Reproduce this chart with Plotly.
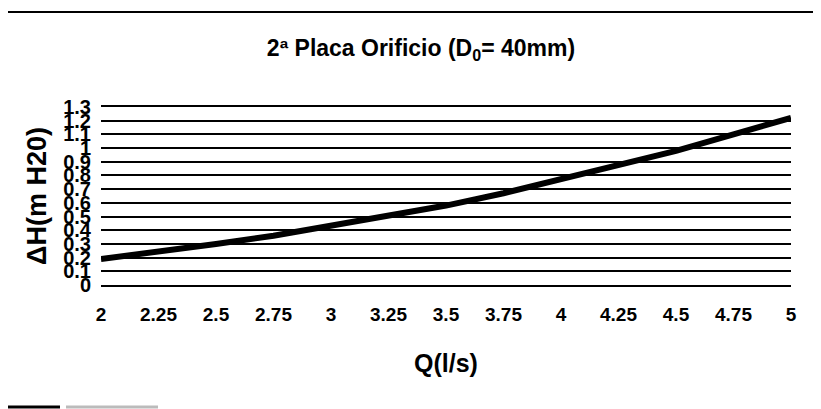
import plotly.graph_objects as go

# Caudal (l/s) y perdida de carga (m H2O)
caudal = [2, 2.25, 2.5, 2.75, 3, 3.25, 3.5, 3.75, 4, 4.25, 4.5, 4.75, 5]
perdida = [0.19, 0.24, 0.30, 0.36, 0.43, 0.50, 0.58, 0.67, 0.77, 0.87, 0.98, 1.10, 1.22]

x_ticks = [2, 2.25, 2.5, 2.75, 3, 3.25, 3.5, 3.75, 4, 4.25, 4.5, 4.75, 5]
y_ticks = [0, 0.1, 0.2, 0.3, 0.4, 0.5, 0.6, 0.7, 0.8, 0.9, 1, 1.1, 1.2, 1.3]

font_bold = 'Liberation Sans Narrow, Liberation Sans, Arial'

# la pagina tiene 8px de margen, asi que la figura es 8px mas pequena
W, H = 813, 401
L, R, T, B = 93, 30, 99, 124
pw, ph = W - L - R, H - T - B


def py(fy):
    # pixel vertical de la figura -> coordenada paper
    return (T + ph - fy) / ph


def px_(fx):
    return (fx - L) / pw


fig = go.Figure()
fig.add_trace(go.Scatter(x=caudal, y=perdida, mode='lines',
                         line=dict(color='black', width=6),
                         showlegend=False))

fig.update_xaxes(range=[2, 5], tickvals=x_ticks,
                 ticktext=[f'{v:g}' for v in x_ticks],
                 showgrid=False, zeroline=False,
                 showline=True, mirror=True, linecolor='black', linewidth=1.5,
                 ticks='', ticklabelstandoff=11, automargin=False,
                 tickfont=dict(family=font_bold, size=19, color='black', weight='bold'),
                 title=dict(text='<b>Q(l/s)</b>', standoff=31,
                            font=dict(family=font_bold, size=25, color='black')))
fig.update_yaxes(range=[0, 1.3], tickvals=y_ticks,
                 ticktext=[f'{v:g}' for v in y_ticks],
                 showgrid=True, gridcolor='black', gridwidth=1.5,
                 zeroline=False, showline=False, ticks='',
                 ticklabelstandoff=9, automargin=False,
                 tickfont=dict(family=font_bold, size=20, color='black', weight='bold'),
                 title=dict(text='<b>ΔH(m H20)</b>', standoff=8,
                            font=dict(family=font_bold, size=27, color='black')))

fig.update_layout(
    width=W, height=H,
    margin=dict(l=L, r=R, t=T, b=B),
    plot_bgcolor='white', paper_bgcolor='white',
    title=dict(text='<b>2ª Placa Orificio (D<sub>0</sub>= 40mm)</b>',
               x=413 / W, xanchor='center', y=1 - 40 / H, yanchor='middle',
               font=dict(family=font_bold, size=23, color='black')),
    # lineas del escaneo en los bordes de la pagina
    shapes=[
        dict(type='line', xref='paper', yref='paper', x0=px_(0), x1=px_(W),
             y0=py(4), y1=py(4), line=dict(color='black', width=2)),
        dict(type='line', xref='paper', yref='paper', x0=px_(0), x1=px_(52),
             y0=py(399), y1=py(399), line=dict(color='black', width=3)),
        dict(type='line', xref='paper', yref='paper', x0=px_(58), x1=px_(150),
             y0=py(399), y1=py(399), line=dict(color='#bbbbbb', width=3)),
    ],
)

fig.write_html('out.html')
